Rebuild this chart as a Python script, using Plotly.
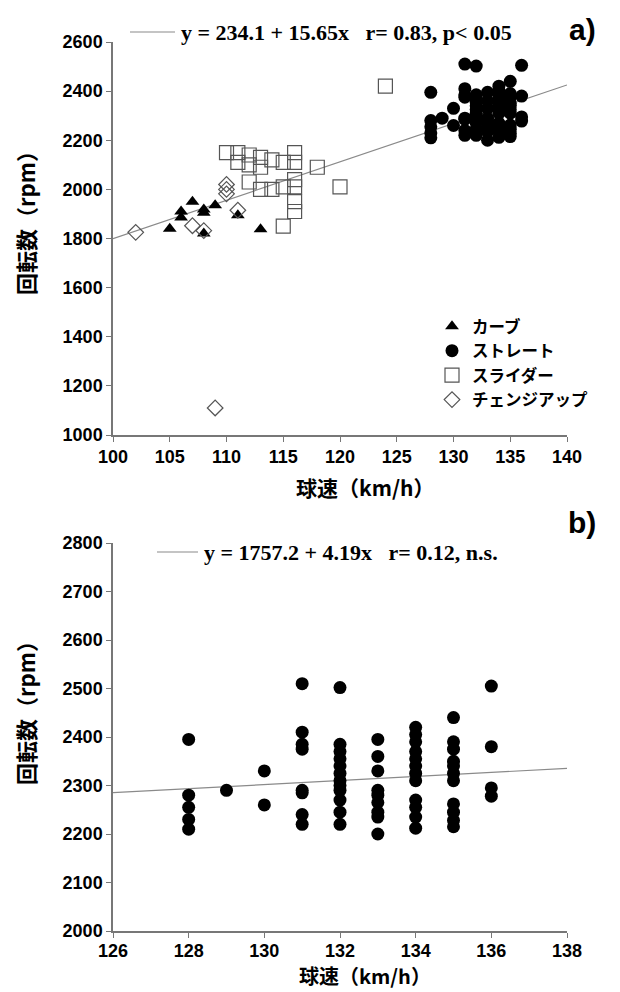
import numpy as np
import plotly.graph_objects as go

# ---------------- data ----------------
curve_x = [105, 106, 106, 107, 108, 108, 108, 109, 111, 113]
curve_y = [1840, 1910, 1885, 1950, 1918, 1905, 1820, 1935, 1895, 1838]

slider_x = [124, 110, 111, 111, 112, 112, 112, 113, 113, 114, 115, 116, 116, 118,
            113, 114, 115, 116, 116, 116, 116, 120, 115]
slider_y = [2420, 2150, 2150, 2110, 2140, 2100, 2030, 2130, 2090, 2120, 2110, 2150, 2110, 2090,
            2000, 2000, 2010, 2040, 2010, 1950, 1910, 2010, 1850]

change_x = [102, 110, 110, 110, 107, 108, 111, 109]
change_y = [1825, 2020, 2000, 1982, 1852, 1832, 1915, 1110]

straight_x = ([128] * 5 + [129] + [130] * 2 + [131] * 8 + [132] * 12 + [133] * 9 +
              [134] * 12 + [135] * 11 + [136] * 4)
straight_y = [2395, 2280, 2255, 2230, 2210,
              2290,
              2330, 2260,
              2510, 2410, 2385, 2375, 2290, 2285, 2240, 2220,
              2502, 2385, 2370, 2355, 2340, 2325, 2310, 2300, 2290, 2270, 2245, 2220,
              2395, 2360, 2330, 2290, 2280, 2265, 2245, 2235, 2200,
              2420, 2405, 2390, 2370, 2355, 2340, 2325, 2310, 2270, 2255, 2235, 2212,
              2440, 2390, 2375, 2350, 2340, 2325, 2310, 2262, 2245, 2228, 2215,
              2505, 2380, 2295, 2278]

series_names = ["カーブ", "ストレート", "スライダー", "チェンジアップ"]

fit_a = (234.1, 15.65)
fit_b = (1757.2, 4.19)
eq_a = "y = 234.1 + 15.65x   r= 0.83, p< 0.05"
eq_b = "y = 1757.2 + 4.19x   r= 0.12, n.s."

xrange_a = [100, 140]
yrange_a = [1000, 2600]
xrange_b = [126, 138]
yrange_b = [2000, 2800]

xtick_a = list(range(100, 141, 5))
ytick_a = list(range(1000, 2601, 200))
xtick_b = list(range(126, 139, 2))
ytick_b = list(range(2000, 2801, 100))

x_title = "球速（km/h）"
y_title = "回転数（rpm）"

# ---------------- figure ----------------
# the page body has an 8px margin, so the figure starts at page (8, 8)
OFF = 8
W, H = 620 - OFF, 992 - OFF
fig = go.Figure()

BLACK = "#000000"
GRAY = "#555555"
LINEGRAY = "#8a8a8a"


def px_x(p):
    return (p - OFF) / W


def px_y(p):
    return 1 - (p - OFF) / H


# regression lines
xa = np.array(xrange_a, dtype=float)
fig.add_trace(go.Scatter(x=xa, y=fit_a[0] + fit_a[1] * xa, mode="lines",
                         line=dict(color=LINEGRAY, width=1.2), showlegend=False,
                         xaxis="x", yaxis="y", hoverinfo="skip"))
xb = np.array(xrange_b, dtype=float)
fig.add_trace(go.Scatter(x=xb, y=fit_b[0] + fit_b[1] * xb, mode="lines",
                         line=dict(color=LINEGRAY, width=1.2), showlegend=False,
                         xaxis="x2", yaxis="y2", hoverinfo="skip"))

# panel a scatter
fig.add_trace(go.Scatter(x=curve_x, y=curve_y, mode="markers", name=series_names[0],
                         marker=dict(symbol="triangle-up", size=12, color=BLACK,
                                     line=dict(width=0)),
                         xaxis="x", yaxis="y", cliponaxis=False))
fig.add_trace(go.Scatter(x=straight_x, y=straight_y, mode="markers", name=series_names[1],
                         marker=dict(symbol="circle", size=13, color=BLACK,
                                     line=dict(width=0)),
                         xaxis="x", yaxis="y", cliponaxis=False))
fig.add_trace(go.Scatter(x=slider_x, y=slider_y, mode="markers", name=series_names[2],
                         marker=dict(symbol="square-open", size=14, color=GRAY,
                                     line=dict(width=1.2, color=GRAY)),
                         xaxis="x", yaxis="y", cliponaxis=False))
fig.add_trace(go.Scatter(x=change_x, y=change_y, mode="markers", name=series_names[3],
                         marker=dict(symbol="diamond-open", size=12, color=GRAY,
                                     line=dict(width=1.2, color=GRAY)),
                         xaxis="x", yaxis="y", cliponaxis=False))

# panel b scatter
fig.add_trace(go.Scatter(x=straight_x, y=straight_y, mode="markers", showlegend=False,
                         marker=dict(symbol="circle", size=13, color=BLACK,
                                     line=dict(width=0)),
                         xaxis="x2", yaxis="y2", cliponaxis=False))

L, R = 113, 567

tickfont = dict(family="Liberation Sans, Arial", size=18, color=BLACK, weight="bold")
axis_common = dict(showgrid=False, zeroline=False, showline=True, linecolor="#777777",
                   linewidth=1.5, ticks="outside", ticklen=5, tickwidth=1.3,
                   tickcolor="#777777", tickfont=tickfont, mirror=False,
                   automargin=False)

fig.update_layout(
    width=W, height=H,
    margin=dict(l=0, r=0, t=0, b=0, autoexpand=False),
    paper_bgcolor="white", plot_bgcolor="white",
    xaxis=dict(domain=[px_x(L), px_x(R)], range=xrange_a, tickvals=xtick_a,
               anchor="y", **axis_common),
    yaxis=dict(domain=[px_y(435), px_y(42)], range=yrange_a, tickvals=ytick_a,
               anchor="x", **axis_common),
    xaxis2=dict(domain=[px_x(L), px_x(R)], range=xrange_b, tickvals=xtick_b,
                anchor="y2", ticklabelstandoff=-2, **axis_common),
    yaxis2=dict(domain=[px_y(931), px_y(543)], range=yrange_b, tickvals=ytick_b,
                anchor="x2", **axis_common),
    legend=dict(x=px_x(432), y=px_y(309), xanchor="left", yanchor="top",
                bgcolor="rgba(0,0,0,0)", traceorder="normal",
                font=dict(family="Noto Sans CJK JP", size=16.5, color=BLACK, weight="bold"),
                itemsizing="trace"),
    showlegend=True,
)

cjk_bold = dict(family="Noto Sans CJK JP", size=21, color=BLACK, weight="bold")
serif_bold = dict(family="Liberation Serif, Times New Roman", size=22, color=BLACK,
                  weight="bold")
label_font = dict(family="Liberation Sans, Arial", size=30, color=BLACK, weight="bold")

annotations = [
    dict(text=x_title, x=px_x(365), y=px_y(487), xref="paper", yref="paper",
         showarrow=False, font=cjk_bold, xanchor="center", yanchor="middle"),
    dict(text=x_title, x=px_x(365), y=px_y(992), xref="paper", yref="paper",
         showarrow=False, font=dict(cjk_bold, size=20), xanchor="center",
         yanchor="bottom"),
    dict(text=y_title, x=px_x(25), y=px_y(218), xref="paper", yref="paper",
         showarrow=False, font=dict(cjk_bold, size=22), textangle=-90,
         xanchor="center", yanchor="middle"),
    dict(text=y_title, x=px_x(25), y=px_y(708), xref="paper", yref="paper",
         showarrow=False, font=dict(cjk_bold, size=22), textangle=-90,
         xanchor="center", yanchor="middle"),
    dict(text=eq_a, x=px_x(179), y=px_y(32), xref="paper", yref="paper",
         showarrow=False, font=serif_bold, xanchor="left", yanchor="middle"),
    dict(text=eq_b, x=px_x(202), y=px_y(552), xref="paper", yref="paper",
         showarrow=False, font=serif_bold, xanchor="left", yanchor="middle"),
    dict(text="a)", x=px_x(598), y=px_y(30), xref="paper", yref="paper",
         showarrow=False, font=label_font, xanchor="right", yanchor="middle"),
    dict(text="b)", x=px_x(598), y=px_y(522), xref="paper", yref="paper",
         showarrow=False, font=label_font, xanchor="right", yanchor="middle"),
]
fig.update_layout(annotations=annotations)

shapes = [
    dict(type="line", xref="paper", yref="paper", x0=px_x(130), x1=px_x(175),
         y0=px_y(32), y1=px_y(32), line=dict(color=LINEGRAY, width=1.2)),
    dict(type="line", xref="paper", yref="paper", x0=px_x(157), x1=px_x(198),
         y0=px_y(552), y1=px_y(552), line=dict(color=LINEGRAY, width=1.2)),
]
fig.update_layout(shapes=shapes)

fig.write_html("out.html")
